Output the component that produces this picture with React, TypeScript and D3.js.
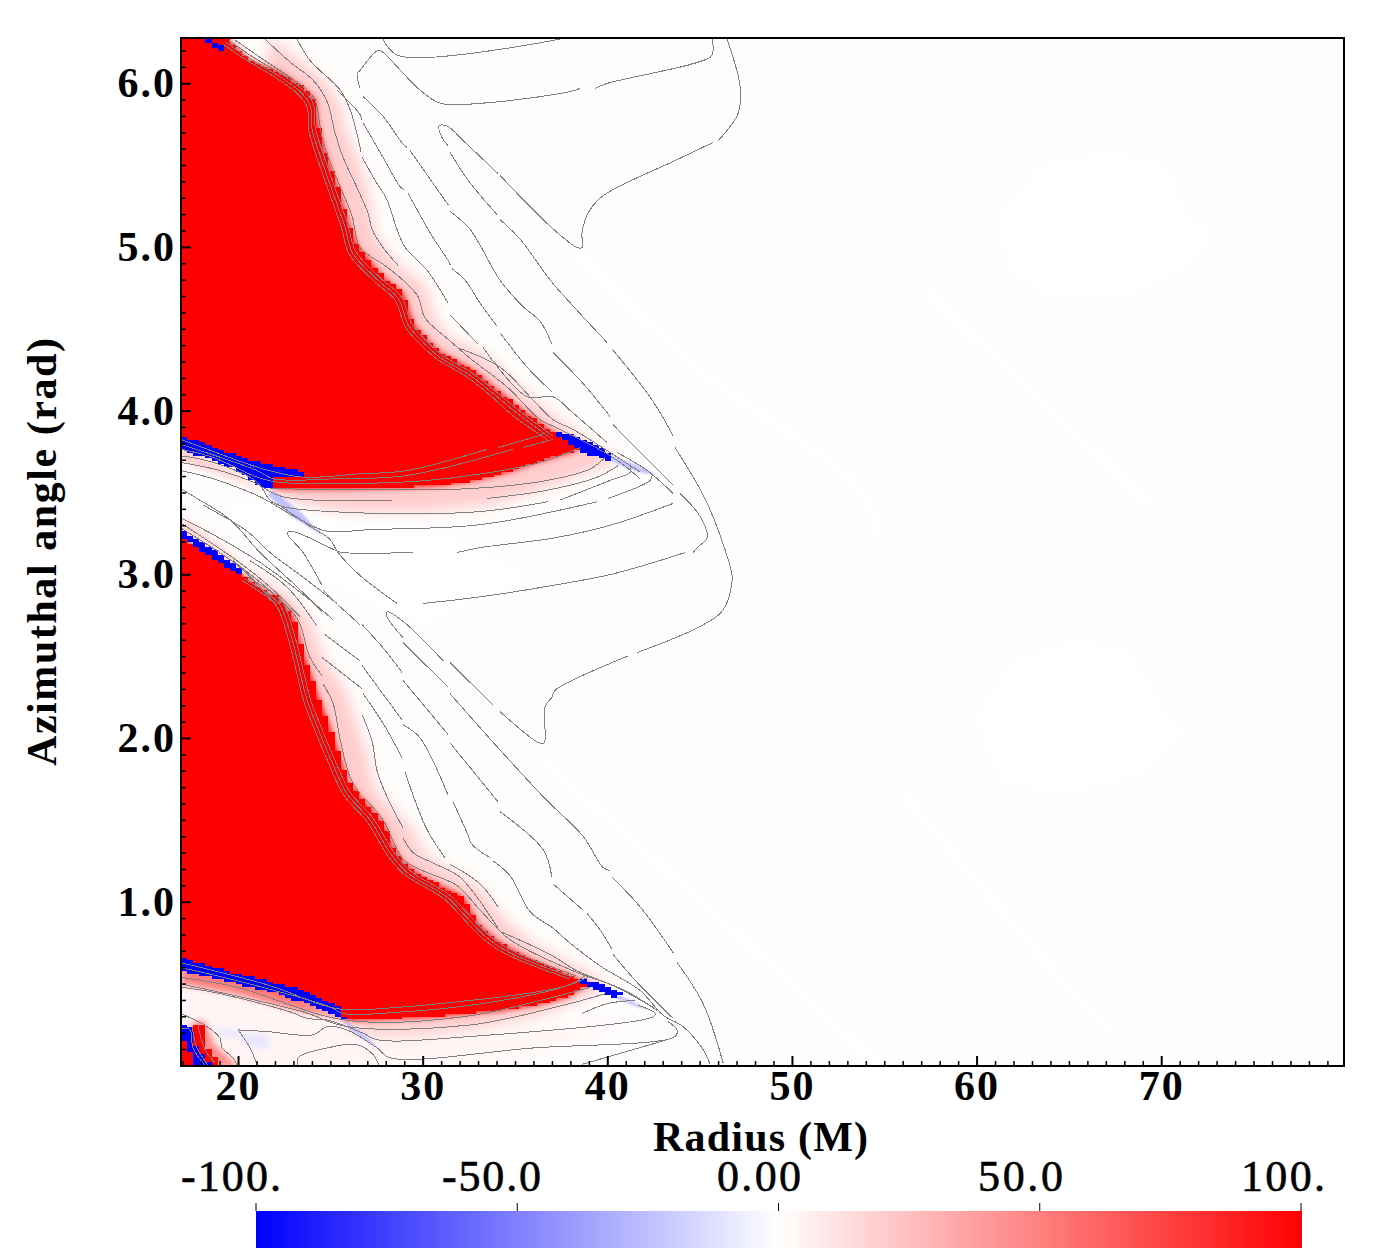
import * as d3 from "d3";
import { useEffect, useRef } from "react";

type Pt = [number, number]; // radius (M), azimuthal angle (rad)

const xMajor = [20, 30, 40, 50, 60, 70];
const yMajor = [1, 2, 3, 4, 5, 6];
const barTicks = [-100, -50, 0, 50, 100];
const barLabels = ["-100.", "-50.0", "0.00", "50.0", "100."];
const barLabelCentres = [231, 491.5, 759, 1020.5, 1283];
const barLabelWidths = [100, 99, 84, 85, 84];

// saturated regions
const upperRed: Pt[] = [[16.9, 6.28], [19.35, 6.28], [20.65, 6.14], [22.38, 6.06], [23.52, 5.97], [24.17, 5.9], [24.33, 5.75], [24.71, 5.58], [25.36, 5.37], [26.07, 5.12], [26.5, 5.0], [27.85, 4.82], [28.94, 4.72], [29.48, 4.54], [29.86, 4.48], [30.94, 4.36], [32.73, 4.25], [34.03, 4.13], [35.11, 4.03], [37.06, 3.87], [38.53, 3.77], [36.36, 3.7], [34.57, 3.63], [32.73, 3.58], [30.94, 3.55], [29.15, 3.54], [25.53, 3.53], [22, 3.53], [21.62, 3.59], [20.38, 3.66], [16.9, 3.8]];
const lowerRed: Pt[] = [[16.9, 3.23], [20.11, 3.01], [21.73, 2.88], [22.11, 2.87], [22.98, 2.75], [23.52, 2.53], [24.28, 2.28], [24.82, 2.12], [25.36, 1.94], [25.9, 1.75], [26.61, 1.65], [27.85, 1.49], [28.4, 1.34], [28.94, 1.25], [30.02, 1.16], [32.19, 1.04], [32.95, 0.88], [34.19, 0.76], [35.98, 0.65], [38.36, 0.54], [38.9, 0.51], [37.82, 0.43], [35.98, 0.38], [34.19, 0.35], [30.56, 0.31], [26.23, 0.29], [25.8, 0.3], [24.82, 0.36], [22.28, 0.46], [19.95, 0.53], [16.9, 0.61]];
const cornerRedLeft: Pt[] = [[16.9, 0.2], [17.02, 0.17], [17.4, 0.09], [17.78, 0.0], [16.9, 0.0]];
const cornerRedRight: Pt[] = [[17.51, 0.26], [18.16, 0.26], [18.16, 0.14], [18.65, 0.08], [19.13, 0.0], [18.59, 0.0], [18.1, 0.08], [17.51, 0.17]];

const blueBands: Pt[][] = [
  [[16.9, 3.85], [18.37, 3.8], [20.38, 3.71], [21.3, 3.69], [23.47, 3.63], [23.47, 3.6], [21.73, 3.6], [21.9, 3.52], [21.08, 3.55], [19.95, 3.65], [18.65, 3.7], [17.4, 3.75], [16.9, 3.78]],
  [[16.9, 3.28], [18.48, 3.17], [20.3, 3.03], [20.11, 3.0], [18.65, 3.1], [17.4, 3.2], [16.9, 3.23]],
  [[18.32, 6.28], [19.4, 6.21], [19.19, 6.19], [18.48, 6.24], [18.21, 6.27]],
  [[37.06, 3.88], [38.15, 3.85], [39.61, 3.78], [40.4, 3.73], [40.15, 3.7], [38.9, 3.74], [37.82, 3.82], [37.06, 3.85]],
  [[16.9, 0.67], [18.65, 0.61], [20.81, 0.55], [23.52, 0.47], [25.36, 0.38], [25.9, 0.28], [24.82, 0.34], [22.28, 0.45], [19.95, 0.51], [16.9, 0.59]],
  [[38.42, 0.55], [39.61, 0.51], [40.9, 0.45], [40.53, 0.42], [39.61, 0.47], [38.69, 0.5]],
  [[16.9, 0.26], [17.51, 0.25], [17.51, 0.17], [18.1, 0.08], [18.59, 0.0], [17.78, 0.0], [17.4, 0.09], [17.02, 0.17], [16.9, 0.2]],
];
const paleBlue: Pt[][] = [
  [[40.15, 3.73], [41.24, 3.69], [42.59, 3.62], [42.05, 3.62], [40.96, 3.66], [39.99, 3.71]],
  [[40.69, 0.44], [42.32, 0.35], [41.61, 0.37], [40.31, 0.43]],
  [[21.9, 3.52], [23.36, 3.39], [24.71, 3.23], [24.2, 3.27], [22.9, 3.36], [21.6, 3.49]],
  [[25.8, 0.29], [26.77, 0.21], [27.69, 0.11], [26.99, 0.16], [26.1, 0.23], [25.4, 0.32]],
];
const faintBlue: Pt[][] = [
  [[18.65, 0.24], [19.95, 0.23], [20.11, 0.18], [19.3, 0.19]],
  [[19.95, 0.2], [21.57, 0.2], [21.73, 0.12], [20.65, 0.12]],
];

// soft pink surroundings
const upperHalo: Pt[] = [[21.73, 6.28], [23.36, 6.14], [24.71, 6.02], [25.53, 5.87], [25.8, 5.72], [26.61, 5.5], [27.15, 5.29], [27.42, 5.08], [28.5, 4.91], [30.13, 4.77], [30.67, 4.56], [31.48, 4.45], [33.38, 4.34], [34.73, 4.19], [36.36, 4.04], [38.8, 3.83], [40.58, 3.69], [39.07, 3.64], [36.36, 3.52], [33.65, 3.43], [29.86, 3.39], [25.53, 3.39], [22.55, 3.46], [22, 3.52], [20.65, 5.29]];
const lowerHalo: Pt[] = [[20.11, 3.06], [22.82, 2.87], [23.9, 2.73], [24.71, 2.48], [25.8, 2.3], [26.34, 2.12], [26.88, 1.94], [27.42, 1.69], [28.23, 1.6], [29.43, 1.45], [30.13, 1.3], [31.21, 1.22], [33.2, 1.09], [34.19, 0.93], [36.09, 0.75], [38.25, 0.62], [40.15, 0.5], [39.07, 0.44], [36.36, 0.32], [33.11, 0.24], [29.86, 0.2], [26.88, 0.2], [25.8, 0.28], [23.36, 1.63]];
const bandPinkLower: Pt[] = [[16.9, 0.61], [22.28, 0.47], [25.8, 0.29], [23.36, 0.34], [20.11, 0.44], [16.9, 0.51]];
const floorPink: Pt[] = [[16.9, 0.55], [25, 0.3], [30, 0.2], [35, 0.22], [42, 0.3], [36, 0.08], [25, 0.0], [16.9, 0.0]];
const bandPinkB: Pt[] = [[16.9, 3.37], [20.11, 3.09], [20.22, 3.03], [16.9, 3.26]];
const bandPinkA: Pt[] = [[16.9, 3.78], [20, 3.62], [21.5, 3.5], [20, 3.58], [16.9, 3.7]];
const cornerPink: Pt[] = [[18.16, 0.29], [18.75, 0.14], [20.11, 0.0], [17.67, 0.0], [17.4, 0.27]];

// near white areas of the background
const whiteBlobs: Pt[][] = [
  [[61.28, 5.2], [63.44, 5.5], [67.24, 5.59], [70.49, 5.5], [71.3, 5.2], [72.92, 5.08], [71.03, 4.86], [67.78, 4.68], [63.99, 4.68], [61.55, 4.89]],
  [[59.92, 2.12], [61.82, 2.48], [65.61, 2.61], [68.32, 2.55], [69.67, 2.27], [71.3, 2.03], [68.86, 1.78], [64.53, 1.66], [61.28, 1.75]],
  [[22, 3.5], [30, 3.3], [36, 3.0], [30, 2.7], [24, 3.0], [19, 3.4]],
];
const whiteStreaks: Pt[][] = [
  [[38.25, 4.98], [45.03, 4.25], [53.69, 3.52], [54.77, 3.19]],
  [[57.2, 4.74], [63.99, 4.01], [69.4, 3.43]],
  [[36.36, 1.88], [45.03, 1.02], [54.77, 0.0]],
  [[55.86, 1.69], [65.61, 0.41], [67.24, 0.23]],
];

// contours close behind the red fronts
const upperFrontLines: Pt[][] = [
  [[19.52, 6.26], [20.82, 6.16], [22.45, 6.05], [23.53, 5.96], [24.07, 5.88], [24.18, 5.73], [24.61, 5.57], [25.26, 5.36], [25.97, 5.13], [26.35, 4.98], [27.75, 4.81], [28.84, 4.7], [29.38, 4.54], [30.03, 4.45], [31.11, 4.34], [32.74, 4.23], [34.09, 4.11], [35.17, 4.01], [37.07, 3.85]],
  [[19.35, 6.25], [20.65, 6.15], [22.28, 6.04], [23.36, 5.95], [23.9, 5.87], [24.01, 5.72], [24.44, 5.56], [25.09, 5.35], [25.8, 5.12], [26.18, 4.97], [27.58, 4.8], [28.67, 4.69], [29.21, 4.53], [29.86, 4.44], [30.94, 4.33], [32.57, 4.22], [33.92, 4.1], [35.0, 4.0], [36.9, 3.84]],
  [[19.18, 6.24], [20.48, 6.14], [22.11, 6.03], [23.19, 5.94], [23.73, 5.86], [23.84, 5.71], [24.27, 5.55], [24.92, 5.34], [25.63, 5.11], [26.01, 4.96], [27.41, 4.79], [28.5, 4.68], [29.04, 4.52], [29.69, 4.43], [30.77, 4.32], [32.4, 4.21], [33.75, 4.09], [34.83, 3.98], [36.73, 3.83]],
];
const lowerFrontLines: Pt[][] = [
  [[20.55, 2.99], [21.9, 2.89], [22.45, 2.83], [23.1, 2.62], [23.91, 2.25], [24.45, 2.09], [25.15, 1.9], [26.07, 1.68], [27.32, 1.52], [28.4, 1.32], [29.32, 1.2], [31.49, 1.05], [32.36, 0.95], [33.66, 0.8], [34.9, 0.71], [38.32, 0.56]],
  [[20.38, 2.98], [21.73, 2.88], [22.28, 2.82], [22.93, 2.61], [23.74, 2.24], [24.28, 2.08], [24.98, 1.89], [25.9, 1.67], [27.15, 1.51], [28.23, 1.31], [29.15, 1.19], [31.32, 1.04], [32.19, 0.94], [33.49, 0.79], [34.73, 0.7], [38.15, 0.55]],
  [[20.21, 2.97], [21.56, 2.87], [22.11, 2.81], [22.76, 2.6], [23.57, 2.23], [24.11, 2.07], [24.81, 1.88], [25.73, 1.66], [26.98, 1.5], [28.06, 1.3], [28.98, 1.18], [31.15, 1.03], [32.02, 0.93], [33.32, 0.78], [34.56, 0.69], [37.98, 0.54]],
];

// upper half contours
const upperLines: Pt[][] = [
  [[19.84, 6.265], [21.57, 6.13], [22.11, 6.09], [23.74, 5.96], [24.17, 5.9], [24.55, 5.67], [24.98, 5.52], [25.53, 5.37], [26.18, 5.19], [26.61, 5.0], [27.96, 4.89], [28.94, 4.8], [29.75, 4.7], [30.13, 4.57], [31.38, 4.44], [32.73, 4.31], [34.57, 4.15], [36.36, 3.95], [37.28, 3.9], [40.31, 3.72], [41.78, 3.59]],
  [[21.46, 6.27], [22.82, 6.13], [24.06, 6.02], [24.82, 5.89], [25.25, 5.7], [25.69, 5.55], [26.5, 5.35], [27.04, 5.21], [27.26, 5.11], [27.85, 5.0], [28.67, 4.89]],
  [[23.2, 6.27], [23.9, 6.14], [25.53, 5.96], [26.07, 5.84], [26.61, 5.61], [26.66, 5.58]],
  [[26.72, 5.55], [27.42, 5.41], [28.07, 5.29], [28.61, 5.11], [29.05, 5.0], [30.24, 4.86], [31.38, 4.66]],
  [[25.36, 5.96], [26.61, 5.81], [26.7, 5.78]],
  [[26.77, 5.76], [27.85, 5.55], [28.78, 5.37], [29.0, 5.35]],
  [[29.21, 5.33], [30.56, 5.06], [31.38, 4.92], [31.5, 4.89]],
  [[31.6, 4.87], [32.3, 4.8], [33.11, 4.66], [34.03, 4.52]],
  [[26.77, 5.92], [27.85, 5.8], [28.94, 5.63], [29.15, 5.61]],
  [[29.32, 5.59], [31.38, 5.26]],
  [[31.48, 5.22], [32.57, 5.11], [34.19, 4.8], [35.43, 4.64], [36.36, 4.55], [37.0, 4.41]],
  [[34.19, 4.48], [35.66, 4.27], [37.0, 4.12]],
  [[33.27, 4.39], [35.66, 4.09], [37.06, 4.09], [38.15, 3.99], [39.99, 3.81]],
  [[37.06, 4.36], [38.69, 4.17], [40.15, 3.97]],
  [[40.31, 3.92], [41.61, 3.77], [43.57, 3.55]],
  [[40.53, 3.75], [42.16, 3.64], [43.57, 3.5]],
  [[31.48, 4.59], [33.0, 4.41]],
  [[31.86, 4.39], [34.19, 4.27], [35.98, 4.07], [37.06, 3.95], [38.15, 3.89], [40.15, 3.75], [41.78, 3.63]],
];

// long folded contours on the right side
const foldLines: Pt[][] = [
  [[46.49, 6.27], [47.19, 5.98], [47.09, 5.82], [46.0, 5.65]],
  [[45.73, 5.64], [43.67, 5.53], [40.26, 5.35], [39.5, 5.29], [38.96, 5.21], [38.63, 5.09], [38.63, 5.0], [38.36, 5.0], [36.9, 5.13], [35.11, 5.33], [34.19, 5.44]],
  [[34.08, 5.45], [32.3, 5.64], [31.32, 5.74], [30.89, 5.74], [31.05, 5.67], [31.38, 5.62]],
  [[31.48, 5.58], [32.46, 5.41], [34.03, 5.2]],
  [[34.19, 5.17], [35.28, 5.05], [36.52, 4.86], [37.06, 4.78], [39.99, 4.42]],
  [[40.26, 4.38], [42.43, 4.07], [43.57, 3.85]],
  [[43.67, 3.78], [45.41, 3.44], [46.71, 3.03], [46.76, 2.97], [46.27, 2.79], [45.03, 2.69], [41.61, 2.53]],
  [[41.13, 2.51], [37.17, 2.3], [37.01, 2.26], [36.63, 2.2], [36.58, 1.98], [36.31, 1.98], [34.19, 2.17]],
  [[33.81, 2.21], [31.48, 2.47]],
  [[31.11, 2.48], [29.05, 2.71], [28.07, 2.78], [28.02, 2.76], [28.94, 2.62]],
  [[28.94, 2.59], [31.38, 2.32]],
  [[31.48, 2.28], [34.08, 1.95], [36.63, 1.64], [38.69, 1.41], [39.77, 1.22], [40.15, 1.2]],
  [[40.26, 1.16], [41.78, 0.98], [43.57, 0.7]],
  [[43.78, 0.64], [45.19, 0.39], [46.27, 0.03]],
  [[26.61, 5.97], [26.45, 6.06], [26.61, 6.08], [27.42, 6.19], [27.69, 6.2], [28.88, 6.07], [29.75, 5.97], [30.94, 5.88], [33.27, 5.88], [37.98, 5.95], [38.53, 5.97]],
  [[39.34, 5.97], [39.99, 6.0], [45.57, 6.16], [45.73, 6.2], [45.68, 6.27]],
  [[27.8, 6.28], [28.67, 6.17], [37.44, 6.27]],
  [[43.94, 3.5], [45.03, 3.36], [45.41, 3.23], [44.86, 3.17], [44.65, 3.14]],
  [[30.02, 2.83], [33.11, 2.87], [37.06, 2.94], [40.31, 3.01], [44.21, 3.14]],
];

// contours on the band between the two fronts
const bandLines: Pt[][] = [
  [[16.9, 3.83], [18.1, 3.78], [21.35, 3.65], [23.52, 3.6], [26.61, 3.62], [29.15, 3.64], [33.49, 3.77]],
  [[34.08, 3.78], [36.52, 3.86]],
  [[16.9, 3.8], [21.03, 3.64], [21.9, 3.59], [25.36, 3.59], [29.15, 3.61], [34.89, 3.77]],
  [[35.44, 3.78], [37.06, 3.83]],
  [[16.9, 3.77], [18.65, 3.72], [21.03, 3.6], [22.11, 3.57], [28.94, 3.57], [32.57, 3.61], [36.36, 3.69], [38.53, 3.78]],
  [[21.73, 3.53], [32.57, 3.53], [36.74, 3.58], [39.07, 3.65], [39.88, 3.72]],
  [[16.9, 3.73], [18.65, 3.69], [21.03, 3.57], [21.73, 3.46], [22.44, 3.42], [27.15, 3.38], [33.11, 3.39], [36.79, 3.45]],
  [[37.44, 3.46], [40.15, 3.58], [41.24, 3.63], [41.24, 3.67]],
  [[16.9, 3.69], [19.02, 3.64], [20.81, 3.57], [22.44, 3.48], [28.34, 3.46]],
  [[33.49, 3.47], [36.74, 3.52], [39.45, 3.6], [40.58, 3.67]],
  [[16.9, 3.64], [18.65, 3.59], [21.19, 3.48], [23.36, 3.34], [24.82, 3.27], [27.15, 3.28], [33.11, 3.31], [39.45, 3.45]],
  [[40.04, 3.47], [42.32, 3.58], [42.43, 3.61]],
  [[16.9, 3.53], [17.78, 3.47], [19.57, 3.34], [21.19, 3.14], [23.2, 2.93], [24.55, 2.78]],
  [[16.9, 3.35], [18.65, 3.25], [21.19, 3.08], [23.9, 2.85], [25.15, 2.73]],
  [[16.9, 3.32], [19.95, 3.09], [21.73, 2.93], [23.36, 2.75]],
  [[16.9, 3.29], [20.11, 3.05], [21.35, 2.91], [22.11, 2.82]],
  [[18.1, 3.43], [20.49, 3.27], [21.73, 3.14], [23.52, 2.99], [25.36, 2.83]],
  [[22.11, 3.44], [23.9, 3.3], [24.98, 3.22], [25.42, 3.14], [26.61, 3.0], [28.61, 2.83]],
  [[24.55, 2.94], [23.52, 3.14], [22.65, 3.26], [22.93, 3.27], [25.36, 3.15], [25.69, 3.14], [29.48, 3.14]],
  [[31.86, 3.14], [33.11, 3.17], [37.17, 3.23], [40.26, 3.31], [43.57, 3.44]],
];

// lower half contours
const lowerLines: Pt[][] = [
  [[19.73, 3.09], [22.11, 2.87], [23.25, 2.73], [23.9, 2.5], [24.55, 2.39]],
  [[24.6, 2.34], [25.15, 2.22], [25.53, 2.0], [26.07, 1.77], [26.61, 1.67]],
  [[26.77, 1.65], [27.85, 1.51], [28.94, 1.27], [30.02, 1.2], [31.86, 1.11], [33.11, 0.96], [34.73, 0.78], [38.36, 0.58], [40.31, 0.5], [42.59, 0.36]],
  [[20.65, 3.09], [22.65, 2.93], [24.28, 2.69]],
  [[24.71, 2.64], [26.61, 2.48]],
  [[24.55, 2.5], [26.72, 2.31]],
  [[26.72, 2.15], [27.26, 1.99], [27.53, 1.81], [28.07, 1.65], [28.94, 1.46]],
  [[28.94, 1.4], [29.48, 1.31], [30.51, 1.25], [32.03, 1.16], [34.08, 0.85]],
  [[24.6, 2.91], [25.25, 2.84]],
  [[25.42, 2.82], [26.61, 2.7]],
  [[26.72, 2.7], [27.85, 2.56], [28.88, 2.41]],
  [[26.72, 2.45], [28.88, 2.12]],
  [[26.77, 2.28], [27.85, 2.1], [28.88, 1.89]],
  [[28.94, 2.36], [31.38, 2.03]],
  [[28.94, 2.09], [29.86, 2.01], [31.38, 1.66]],
  [[29.05, 1.8], [30.24, 1.45], [31.21, 1.28]],
  [[31.48, 1.98], [34.08, 1.62]],
  [[31.65, 1.62], [32.41, 1.43], [32.68, 1.36], [33.65, 1.28]],
  [[34.19, 1.56], [36.52, 1.33], [37.0, 1.16]],
  [[31.48, 1.24], [33.11, 1.12], [34.08, 0.98]],
  [[33.81, 1.26], [34.73, 1.17], [35.82, 0.95], [37.06, 0.85], [37.98, 0.76], [39.61, 0.62], [41.78, 0.47], [43.02, 0.32], [44.1, 0.25], [45.19, 0.11], [45.57, 0.02]],
  [[37.06, 1.12], [38.69, 0.96]],
  [[38.9, 0.94], [39.61, 0.84], [40.26, 0.72]],
  [[40.31, 0.69], [41.61, 0.52], [43.57, 0.3]],
  [[34.19, 0.83], [36.9, 0.69], [38.36, 0.59], [40.96, 0.47], [42.69, 0.35]],
];

// contours of the bottom band and the corner
const bottomLines: Pt[][] = [
  [[16.9, 0.64], [21.73, 0.5], [25.36, 0.36], [28.94, 0.37], [32.57, 0.41], [34.19, 0.43], [37.82, 0.5], [38.8, 0.56]],
  [[16.9, 0.61], [19.95, 0.53], [24.98, 0.37], [25.69, 0.33], [28.94, 0.34], [32.57, 0.38], [37.28, 0.48], [38.96, 0.55]],
  [[16.9, 0.55], [19.95, 0.49], [25.8, 0.29], [32.19, 0.31], [39.07, 0.49]],
  [[16.9, 0.51], [23.52, 0.34], [25.9, 0.25], [32.57, 0.26], [37.6, 0.38], [39.88, 0.45]],
  [[38.63, 0.33], [39.99, 0.39], [41.5, 0.41]],
  [[16.9, 0.49], [18.65, 0.46], [22.82, 0.34], [23.74, 0.3], [24.82, 0.29], [26.77, 0.21], [27.53, 0.17], [32.57, 0.19], [42.48, 0.31], [42.59, 0.33], [41.67, 0.38]],
  [[20.0, 0.23], [21.57, 0.22], [24.06, 0.2], [24.82, 0.25], [25.9, 0.23], [27.53, 0.12], [28.23, 0.06], [35.98, 0.12], [43.67, 0.19], [43.78, 0.23], [43.29, 0.28]],
  [[38.63, 0.02], [43.24, 0.17]],
  [[20.0, 0.23], [20.65, 0.12], [21.08, 0.0]],
  [[16.9, 0.33], [18.32, 0.25], [19.02, 0.18], [19.13, 0.12], [19.73, 0.06], [20.0, 0.0]],
  [[23.25, 0.0], [23.25, 0.06], [24.82, 0.12], [26.45, 0.14], [27.31, 0.08], [27.69, 0.0]],
  [[16.9, 0.24], [17.4, 0.23], [17.56, 0.12], [18.32, 0.0]],
  [[17.51, 0.25], [17.78, 0.12], [18.48, 0.0]],
  [[17.83, 0.26], [18.21, 0.11], [18.75, 0.03]],
];

const SERIF = "'Liberation Serif', serif";
// size of one cell of the simulation grid, seen in the steps along the blue bands
const CELL_R = 0.333;
const CELL_T = 0.01636;

export default function App() {
  const ref = useRef<SVGSVGElement | null>(null);

  useEffect(() => {
    if (!ref.current) return;
    const svg = d3.select(ref.current);
    svg.selectAll("*").remove();

    const left = 181;
    const right = 1344;
    const top = 38;
    const bottom = 1066;

    const x = d3.scaleLinear().domain([16.91, 79.9]).range([left, right]);
    const y = d3.scaleLinear().domain([0.01, 6.277]).range([bottom, top]);
    // tick positions read directly from the frame
    const yAxisScale = d3.scaleLinear().domain([0, 6]).range([1065.4, 83.2]);
    const color = d3
      .scaleLinear<string>()
      .domain([-100, 0, 100])
      .range(["#0000ff", "#ffffff", "#ff0000"]);

    const defs = svg.append("defs");
    defs
      .append("clipPath")
      .attr("id", "plot")
      .append("rect")
      .attr("x", left)
      .attr("y", top)
      .attr("width", right - left)
      .attr("height", bottom - top);
    [
      ["soft", 7],
      ["mid", 3],
      ["tiny", 1.2],
    ].forEach(([id, sd]) => {
      defs
        .append("filter")
        .attr("id", id as string)
        .attr("x", "-30%")
        .attr("y", "-30%")
        .attr("width", "160%")
        .attr("height", "160%")
        .append("feGaussianBlur")
        .attr("stdDeviation", sd);
    });

    const outline = d3
      .line<Pt>()
      .x((d) => x(d[0]))
      .y((d) => y(d[1]));
    const contour = d3
      .line<Pt>()
      .x((d) => x(d[0]))
      .y((d) => y(d[1]))
      .curve(d3.curveCatmullRom.alpha(0.5));

    // outline turned into runs of grid cells, so edges get the blocky steps
    const cellPath = (poly: Pt[]) => {
      const rs = poly.map((p) => p[0]);
      const ts = poly.map((p) => p[1]);
      const iMin = Math.floor((d3.min(rs)! - 16.9) / CELL_R);
      const iMax = Math.ceil((d3.max(rs)! - 16.9) / CELL_R);
      const jMin = Math.floor(d3.min(ts)! / CELL_T);
      const jMax = Math.ceil(d3.max(ts)! / CELL_T);
      let d = "";
      for (let j = jMin; j <= jMax; j++) {
        let start = -1;
        for (let i = iMin; i <= iMax + 1; i++) {
          const inside =
            i <= iMax &&
            d3.polygonContains(poly, [16.9 + (i + 0.5) * CELL_R, (j + 0.5) * CELL_T]);
          if (inside && start < 0) start = i;
          if (!inside && start >= 0) {
            const x0 = x(16.9 + start * CELL_R);
            const x1 = x(16.9 + i * CELL_R);
            const y0 = y((j + 1) * CELL_T);
            const y1 = y(j * CELL_T);
            d += `M${x0},${y0}H${x1}V${y1}H${x0}Z`;
            start = -1;
          }
        }
      }
      return d;
    };

    const plot = svg.append("g").attr("clip-path", "url(#plot)");
    plot
      .append("rect")
      .attr("x", left)
      .attr("y", top)
      .attr("width", right - left)
      .attr("height", bottom - top)
      .attr("fill", "#fefdfb");

    const area = (pts: Pt[], value: number, filter?: string) => {
      const p = plot
        .append("path")
        .attr("d", outline(pts) + "Z")
        .attr("fill", color(value));
      if (filter) p.attr("filter", `url(#${filter})`);
      return p;
    };
    const cells = (pts: Pt[], value: number) =>
      plot
        .append("path")
        .attr("d", cellPath(pts))
        .attr("fill", color(value))
        .attr("shape-rendering", "crispEdges");

    whiteBlobs.forEach((b) => area(b, 0, "mid"));
    whiteStreaks.forEach((s) =>
      plot
        .append("path")
        .attr("d", contour(s))
        .attr("fill", "none")
        .attr("stroke", "#ffffff")
        .attr("stroke-width", 9)
        .attr("filter", "url(#mid)")
    );

    area(floorPink, 4, "soft");
    area(upperHalo, 20, "soft");
    area(lowerHalo, 20, "soft");
    area(bandPinkLower, 50, "mid");
    area(bandPinkB, 16, "mid");
    area(bandPinkA, 20, "mid");
    area(cornerPink, 45, "mid");
    faintBlue.forEach((b) => area(b, -10, "mid"));
    paleBlue.forEach((b) => area(b, -24, "tiny"));

    // steep edge around the saturated lobes
    area(upperRed, 100, "mid");
    area(lowerRed, 100, "mid");
    [upperRed, lowerRed, cornerRedLeft, cornerRedRight].forEach((r) => cells(r, 100));
    blueBands.forEach((b) => cells(b, -100));

    [
      ...upperFrontLines,
      ...lowerFrontLines,
      ...upperLines,
      ...foldLines,
      ...bandLines,
      ...lowerLines,
      ...bottomLines,
    ].forEach((l) =>
      plot
        .append("path")
        .attr("d", contour(l))
        .attr("fill", "none")
        .attr("stroke", "#808080")
        .attr("stroke-width", 1)
        .attr("shape-rendering", "crispEdges")
    );

    // axes, ticks point into the plot
    const xMinor = d3.range(17, 80).filter((v) => v % 10 !== 0);
    const yMinor = d3.range(0.1, 6.28, 0.1).filter((v) => Math.abs(v - Math.round(v)) > 0.01);

    const styleAxis = (g: d3.Selection<SVGGElement, unknown, null, undefined>, w: number) => {
      g.select(".domain").remove();
      g.selectAll(".tick line").attr("stroke", "#000").attr("stroke-width", w);
      g.selectAll("text")
        .attr("font-family", SERIF)
        .attr("font-weight", "bold")
        .attr("font-size", 42)
        .attr("fill", "#000")
        .attr("letter-spacing", 2);
    };

    svg
      .append("g")
      .attr("transform", `translate(0,${bottom})`)
      .call(d3.axisBottom(x).tickValues(xMinor).tickSize(-5).tickFormat(() => ""))
      .call(styleAxis, 1.5);
    svg
      .append("g")
      .attr("transform", `translate(0,${bottom})`)
      .call(
        d3
          .axisBottom(x)
          .tickValues(xMajor)
          .tickSize(-10)
          .tickPadding(4)
          .tickFormat((d) => String(d))
      )
      .call(styleAxis, 2);
    svg
      .append("g")
      .attr("transform", `translate(${left},0)`)
      .call(d3.axisLeft(yAxisScale).tickValues(yMinor).tickSize(-5).tickFormat(() => ""))
      .call(styleAxis, 1.5);
    svg
      .append("g")
      .attr("transform", `translate(${left},0)`)
      .call(
        d3
          .axisLeft(yAxisScale)
          .tickValues(yMajor)
          .tickSize(-10)
          .tickPadding(5)
          .tickFormat((d) => d3.format(".1f")(d as number))
      )
      .call(styleAxis, 2);

    svg
      .append("rect")
      .attr("x", left)
      .attr("y", top)
      .attr("width", right - left)
      .attr("height", bottom - top)
      .attr("fill", "none")
      .attr("stroke", "#000")
      .attr("stroke-width", 2);

    svg
      .append("text")
      .attr("x", 760.5)
      .attr("y", 1151)
      .attr("text-anchor", "middle")
      .attr("font-family", SERIF)
      .attr("font-weight", "bold")
      .attr("font-size", 42)
      .attr("textLength", 215)
      .text("Radius (M)");
    svg
      .append("text")
      .attr("transform", "translate(56,552) rotate(-90)")
      .attr("text-anchor", "middle")
      .attr("font-family", SERIF)
      .attr("font-weight", "bold")
      .attr("font-size", 42)
      .attr("textLength", 428)
      .text("Azimuthal angle (rad)");

    // colour bar
    const barX = d3.scaleLinear().domain([-100, 100]).range([256, 1301]);
    const barValues = d3.range(-100, 100, 1);
    svg
      .append("g")
      .selectAll("rect")
      .data(barValues)
      .enter()
      .append("rect")
      .attr("x", (d) => barX(d))
      .attr("y", 1211)
      .attr("width", barX(1) - barX(0) + 0.5)
      .attr("height", 37)
      .attr("fill", (d) => color(d + 0.5))
      .attr("shape-rendering", "crispEdges");
    const barAxis = svg.append("g");
    barAxis
      .selectAll("line")
      .data(barTicks)
      .enter()
      .append("line")
      .attr("x1", (d) => barX(d))
      .attr("x2", (d) => barX(d))
      .attr("y1", 1203)
      .attr("y2", 1211)
      .attr("stroke", "#000")
      .attr("stroke-width", 1);
    barAxis
      .selectAll("text")
      .data(barLabels)
      .enter()
      .append("text")
      .attr("x", (_, i) => barLabelCentres[i])
      .attr("y", 1191)
      .attr("text-anchor", "middle")
      .attr("font-family", SERIF)
      .attr("font-size", 44)
      .attr("stroke", "#000")
      .attr("stroke-width", 0.6)
      .attr("textLength", (_, i) => barLabelWidths[i])
      .text((d) => d);
  }, []);

  return (
    <div>
      <svg
        ref={ref}
        width={1386}
        height={1254}
        style={{ position: "absolute", left: 0, top: 0, display: "block", background: "#fff" }}
      ></svg>
    </div>
  );
}
